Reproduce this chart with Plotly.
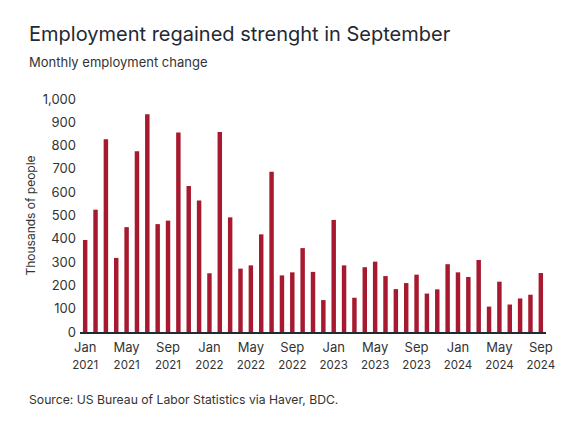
import plotly.graph_objects as go

# monthly employment change, thousands of people, Jan 2021 - Sep 2024
months = ["Jan", "Feb", "Mar", "Apr", "May", "Jun",
          "Jul", "Aug", "Sep", "Oct", "Nov", "Dec"]
years = [2021, 2022, 2023, 2024]
categories = [f"{m} {y}" for y in years for m in months][:45]

values = [
    395, 525, 827, 318, 450, 776, 935, 463, 478, 856, 627, 564,   # 2021
    252, 858, 492, 272, 286, 419, 688, 243, 256, 360, 258, 137,   # 2022
    481, 286, 147, 278, 302, 240, 184, 210, 246, 165, 183, 291,   # 2023
    256, 236, 309, 109, 216, 118, 144, 160, 253,                  # 2024
]

tick_cats = categories[::4]
tick_text = [c.split()[0] + "<br><span style='font-size:11.5px'>" + c.split()[1] + "</span>"
             for c in tick_cats]

yticks = list(range(0, 1001, 100))
ytick_text = [f"{v:,}" for v in yticks]

W, H = 575, 431
L, R, T, B = 80, 29, 99, 99
pw, ph = W - L - R, H - T - B

def px(x):
    return (x - L) / pw

def py(y):
    return (H - B - y) / ph

FONT = "Inter"
DARK = "#1f2a33"

fig = go.Figure()
fig.add_trace(go.Bar(
    x=categories,
    y=values,
    marker=dict(color="#a6192e", line=dict(width=0)),
    hovertemplate="%{x}: %{y}<extra></extra>",
))

fig.update_layout(
    width=W, height=H,
    margin=dict(l=L, r=R, t=T, b=B),
    paper_bgcolor="white",
    plot_bgcolor="white",
    bargap=0.57,
    showlegend=False,
    font=dict(family=FONT, color="#333", size=13),
    xaxis=dict(
        type="category",
        tickvals=tick_cats,
        ticktext=tick_text,
        tickangle=0,
        showgrid=False,
        showline=True,
        linecolor=DARK,
        linewidth=2,
        ticks="",
        ticklabelstandoff=2,
        tickfont=dict(size=13, color="#333"),
        range=[-0.5, 44.5],
    ),
    yaxis=dict(
        range=[0, 1000],
        tickvals=yticks,
        ticktext=ytick_text,
        showgrid=False,
        zeroline=False,
        ticks="",
        ticklabelstandoff=3,
        tickfont=dict(size=13, color="#333"),
        title=dict(text="Thousands of people", font=dict(size=12, color="#333"), standoff=4),
    ),
)

fig.add_annotation(
    text="Employment regained strenght in September",
    x=px(27), y=py(34), xref="paper", yref="paper",
    xanchor="left", yanchor="middle", showarrow=False,
    font=dict(size=20, color=DARK, family=FONT),
)
fig.add_annotation(
    text="Monthly employment change",
    x=px(27), y=py(62), xref="paper", yref="paper",
    xanchor="left", yanchor="middle", showarrow=False,
    font=dict(size=13, color="#333", family=FONT),
)
fig.add_annotation(
    text="Source: US Bureau of Labor Statistics via Haver, BDC.",
    x=px(27), y=py(399), xref="paper", yref="paper",
    xanchor="left", yanchor="middle", showarrow=False,
    font=dict(size=12.2, color="#333", family=FONT),
)

fig.write_html("out.html", config={"displayModeBar": False},
               post_script="document.body.style.margin='0';")
